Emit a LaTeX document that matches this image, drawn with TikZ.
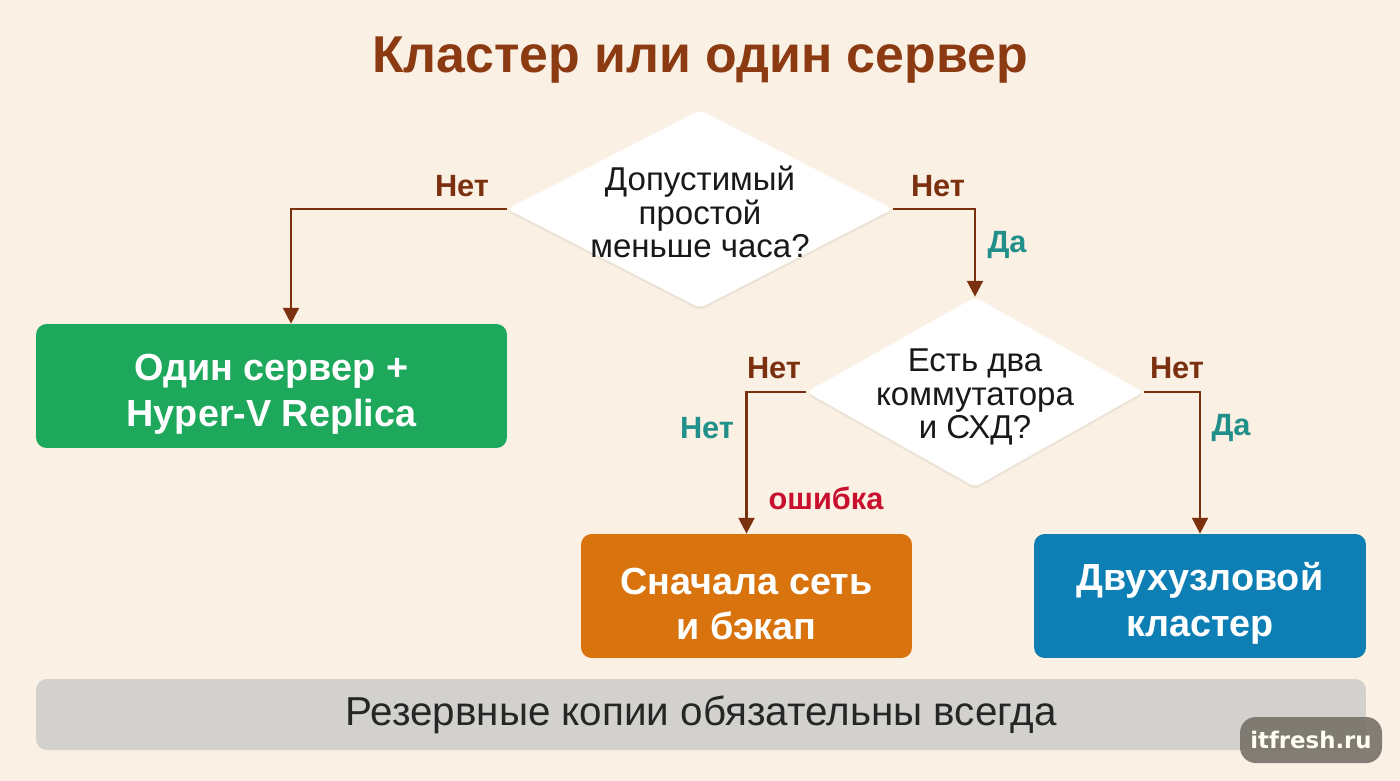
\documentclass[tikz,border=0pt]{standalone}
\usepackage{fontspec}
\setmainfont{Liberation Sans}
\newfontfamily\badgefont{DejaVu Sans}
\usepackage{xcolor}
\usetikzlibrary{arrows.meta,positioning,shapes.geometric,shadows}

\definecolor{bgcream}{HTML}{FAF0E3}
\definecolor{titlebrown}{HTML}{8B3A12}
\definecolor{linebrown}{HTML}{7B3010}
\definecolor{yesteal}{HTML}{22908A}
\definecolor{errred}{HTML}{C8102E}
\definecolor{okgreen}{HTML}{1DA85C}
\definecolor{warnorange}{HTML}{D9730D}
\definecolor{clusterblue}{HTML}{0E7FB5}
\definecolor{notegray}{HTML}{D3D1CE}
\definecolor{badgegray}{HTML}{746E66}

\newcommand{\topstrut}{\rule{0pt}{24pt}}

\begin{document}
\begin{tikzpicture}[
  x=0.02cm, y=-0.02cm,
  >={Triangle[width=9pt,length=9pt]},
  flow/.style={->, draw=linebrown, line width=1.4pt},
  decision/.style={diamond, fill=white, draw=none, inner sep=0pt, rounded corners=3pt,
    drop shadow={opacity=0.10, shadow xshift=0pt, shadow yshift=-1.5pt}},
  question/.style={align=center, text=black!90, font=\fontsize{18.8}{19}\selectfont},
  result/.style={rectangle, rounded corners=6pt, minimum height=2.48cm, align=center,
    text=white, font=\bfseries\fontsize{21.5}{26}\selectfont},
  nolabel/.style={text=linebrown, font=\bfseries\fontsize{17.5}{20}\selectfont},
  yeslabel/.style={text=yesteal, font=\bfseries\fontsize{17.5}{20}\selectfont},
  errlabel/.style={text=errred, font=\bfseries\fontsize{17.5}{20}\selectfont}
]
\fill[bgcream] (0,0) rectangle (1400,781);
\useasboundingbox (0,0) rectangle (1400,781);

% title
\node[text=titlebrown, font=\bfseries\fontsize{29.5}{35}\selectfont] (title) at (700,60) {Кластер или один сервер};

% questions
\node[decision, minimum width=7.72cm, minimum height=3.96cm] (downtime) at (700,209) {};
\node[question] (downtimeText) at (700,212) {Допустимый\\простой\\меньше часа?};
\node[decision, minimum width=6.74cm, minimum height=3.8cm] (storage) at (975,392) {};
\node[question] (storageText) at (975,397) {Есть два\\коммутатора\\и СХД?};

% outcomes
\node[result, fill=okgreen, minimum width=9.42cm] (single) at (271.5,386) {\topstrut Один сервер +\\Hyper-V Replica};
\node[result, fill=warnorange, minimum width=6.62cm] (network) at (746.5,596) {\topstrut Сначала сеть\\и бэкап};
\node[result, fill=clusterblue, minimum width=6.64cm] (cluster) at (1200,596) {\topstrut Двухузловой\\кластер};

% footer
\node[rectangle, rounded corners=6pt, fill=notegray, minimum width=26.6cm, minimum height=1.42cm,
  text=black!85, font=\fontsize{23}{27}\selectfont] (backup) at (701,714.5) {Резервные копии обязательны всегда};
\node[rectangle, rounded corners=9pt, fill=badgegray, fill opacity=0.88, text opacity=1,
  minimum width=2.84cm, minimum height=0.92cm, text=white!94!yellow,
  font=\badgefont\bfseries\fontsize{13}{15}\selectfont] (badge) at (1311,740) {itfresh.ru};

% connectors
\draw[flow] (downtime.west) -| ([xshift=0.39cm]single.north);
\draw[flow] (downtime.east) -| (storage.north);
\draw[flow] (storage.west) -| (network.north);
\draw[flow] (storage.east) -| (cluster.north);

% labels
\node[nolabel] (noA) at (462,186) {Нет};
\node[nolabel] (noB) at (938,186) {Нет};
\node[yeslabel] (yesB) at (1007,245) {Да};
\node[nolabel] (noC) at (774,368) {Нет};
\node[yeslabel] (noCteal) at (707,428) {Нет};
\node[errlabel] (errC) at (826,498) {ошибка};
\node[nolabel] (noD) at (1177,368) {Нет};
\node[yeslabel] (yesD) at (1231,428) {Да};
\end{tikzpicture}
\end{document}
